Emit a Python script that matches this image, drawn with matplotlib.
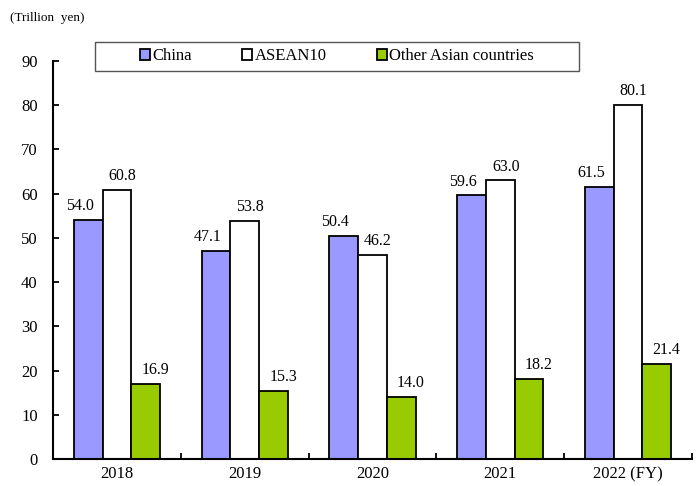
import matplotlib
matplotlib.use('Agg')
import matplotlib.pyplot as plt
from matplotlib.patches import Rectangle
import numpy as np

# data
years = ['2018', '2019', '2020', '2021', '2022 (FY)']
china = [54.0, 47.1, 50.4, 59.6, 61.5]
asean = [60.8, 53.8, 46.2, 63.0, 80.1]
other = [16.9, 15.3, 14.0, 18.2, 21.4]
series_names = ['China', 'ASEAN10', 'Other Asian countries']
colors = ['#9999FF', '#FFFFFF', '#99CC00']

# label nudges (points) so the numbers don't collide
label_dx = [-6, 4, 7]
label_dy = 10

plt.rcParams['font.family'] = ['Liberation Serif', 'DejaVu Serif']

W, H = 700, 486
fig = plt.figure(figsize=(W / 100, H / 100), dpi=100)
ax = fig.add_axes([53 / W, 1 - 459 / H, (692 - 53) / W, (459 - 61) / H])

x = np.arange(len(years))
w = 0.225
for i, (vals, name, c) in enumerate(zip([china, asean, other], series_names, colors)):
    bars = ax.bar(x + (i - 1) * w, vals, w, color=c, edgecolor='black',
                  linewidth=1.3, label=name)
    for b, v in zip(bars, vals):
        ax.annotate(f'{v:.1f}', (b.get_x() + b.get_width() / 2, v),
                    xytext=(label_dx[i], label_dy), textcoords='offset points',
                    ha='center', va='center', fontsize=11.5)

ax.set_xlim(-0.5, len(years) - 0.5)
ax.set_ylim(0, 90)
ax.set_yticks(range(0, 91, 10))
ax.set_xticks(x)
ax.set_xticklabels(years, fontsize=12)
ax.set_xticks(np.arange(0.5, len(years) - 0.4, 1), minor=True)
ax.tick_params(axis='x', which='major', length=0, pad=5)
ax.tick_params(axis='x', which='minor', direction='in', length=4, width=1.3)
ax.tick_params(axis='y', direction='in', length=4, width=1.3, labelsize=12, pad=11)

ax.spines['top'].set_visible(False)
ax.spines['right'].set_visible(False)
ax.spines['left'].set_linewidth(1.5)
ax.spines['bottom'].set_linewidth(1.5)

# legend box
bx0, by0, bx1, by1 = 95, 42, 579, 71
fig.patches.append(Rectangle((bx0 / W, 1 - by1 / H), (bx1 - bx0) / W, (by1 - by0) / H,
                             transform=fig.transFigure, facecolor='white',
                             edgecolor='#555555', linewidth=1.0, zorder=5))
leg = fig.legend(loc='center', bbox_to_anchor=((bx0 + bx1) / 2 / W, 1 - (by0 + by1) / 2 / H),
                 ncol=3, frameon=False, fontsize=12,
                 handlelength=0.6, handleheight=0.6, handletextpad=0.15,
                 columnspacing=3.0, borderaxespad=0)
leg.set_zorder(6)

fig.text(10 / W, 1 - 18 / H, '(Trillion  yen)', fontsize=9.5, va='center', ha='left')

fig.savefig('out.png', dpi=100)
